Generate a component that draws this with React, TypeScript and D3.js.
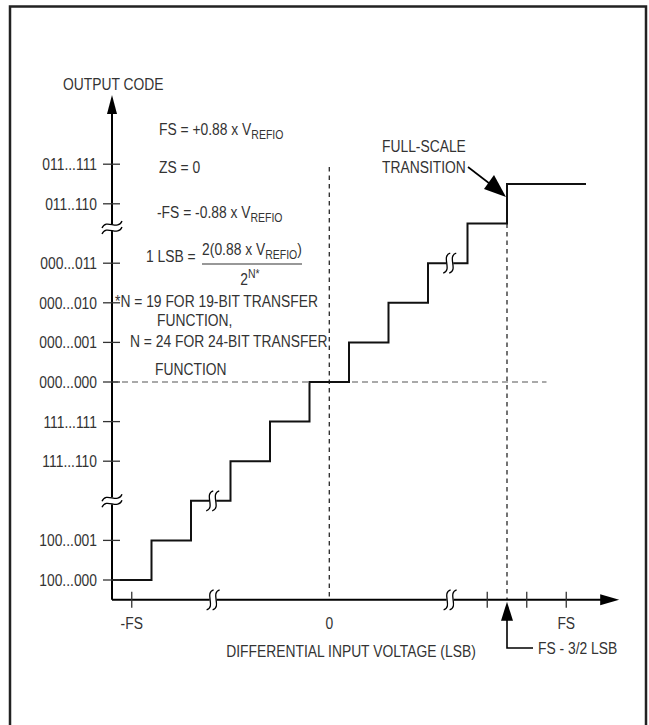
import React from "react";
import * as d3 from "d3";

// ---- data ----
const stepX = [0, 1, 2, 3, 4, 5, 6, 7, 8, 9, 10, 12];
const stepLevel = [0, 1, 2, 3, 4, 5, 6, 7, 8, 9, 10, 10];
const yTickPos = [0, 1, 3, 4, 5, 6, 7, 8, 9.5, 10.5];
const yTickLabels = [
  "100...000",
  "100...001",
  "111...110",
  "111...111",
  "000...000",
  "000...001",
  "000...010",
  "000...011",
  "011..110",
  "011...111",
];
const xTickPos = [0.5, 9.5, 10.5, 11.5];
const xLabelPos = [0.5, 5.5, 11.5];
const xLabels = ["-FS", "0", "FS"];
const yAxisBreaks = [2, 8.9];
const xAxisBreaks = [2.56, 8.56];
const stairBreakX = [2.55, 8.55];
const stairBreakLevel = [2, 8];
const zeroLevel = 5;
const zeroInput = 5.5;
const fsTransition = 10;

const W = 649;
const H = 725;
const FONT = "'Liberation Sans', Arial, sans-serif";
const TEXT = "#333";
const FS = 16.5;
const SX = 0.84;

type TProps = {
  x: number;
  y: number;
  anchor?: "start" | "middle" | "end";
  size?: number;
  dy?: string;
  children?: React.ReactNode;
};
function T({ x, y, anchor = "start", size = FS, dy, children }: TProps) {
  return (
    <text
      transform={`translate(${x},${y}) scale(${SX},1)`}
      textAnchor={anchor}
      fontSize={size}
      dy={dy}
      fill={TEXT}
    >
      {children}
    </text>
  );
}

export default function App() {
  const x = d3.scaleLinear().domain([0, 12]).range([112, 586]);
  const y = d3.scaleLinear().domain([0, 10]).range([580, 184]);
  const x0 = x(0);
  const yAxisY = y(-0.5);
  const xEnd = x(12.84);
  const yTop = y(12.25);

  const pts: [number, number][] = stepX.map((v, i) => [x(v), y(stepLevel[i])]);
  const stair = d3.line().curve(d3.curveStepAfter)(pts) || "";

  const vBreak = (cx: number, cy: number, key: string) => {
    const s = (ox: number) =>
      `M${ox + 3.5},${cy - 10} C${ox - 6},${cy - 7} ${ox + 6},${cy + 7} ${ox - 3.5},${cy + 10}`;
    return (
      <g key={key}>
        <rect x={cx - 3.5} y={cy - 3} width={7} height={6} fill="#fff" />
        <path d={s(cx - 3)} fill="none" stroke="#000" strokeWidth={1.3} />
        <path d={s(cx + 3)} fill="none" stroke="#000" strokeWidth={1.3} />
      </g>
    );
  };
  const hBreak = (cx: number, cy: number, key: string) => {
    const s = (oy: number) =>
      `M${cx - 10},${oy + 3.5} C${cx - 6},${oy - 6.5} ${cx + 6},${oy + 6.5} ${cx + 10},${oy - 3.5}`;
    return (
      <g key={key}>
        <rect x={cx - 3} y={cy - 3.5} width={6} height={7} fill="#fff" />
        <path d={s(cy - 3)} fill="none" stroke="#000" strokeWidth={1.3} />
        <path d={s(cy + 3)} fill="none" stroke="#000" strokeWidth={1.3} />
      </g>
    );
  };

  const sub = (t: string) => (
    <tspan fontSize={12.5} dy={4}>
      {t}
    </tspan>
  );

  const fsX = x(fsTransition);

  return (
    <svg
      width={W}
      height={H}
      style={{ position: "absolute", left: 0, top: 0, background: "#fff" }}
      fontFamily={FONT}
    >
      {/* frame */}
      <path d={`M10,${H + 5} V6.5 H646 V${H + 5}`} fill="none" stroke="#222" strokeWidth={2.5} />

      {/* dashed guides */}
      <line
        x1={x0}
        x2={x(11)}
        y1={y(zeroLevel)}
        y2={y(zeroLevel)}
        stroke="#555"
        strokeWidth={1.2}
        strokeDasharray="6 4"
      />
      <line
        x1={x(zeroInput)}
        x2={x(zeroInput)}
        y1={167}
        y2={yAxisY}
        stroke="#000"
        strokeWidth={1.1}
        strokeDasharray="4.5 4"
      />
      <line
        x1={fsX}
        x2={fsX}
        y1={y(9)}
        y2={yAxisY}
        stroke="#000"
        strokeWidth={1.1}
        strokeDasharray="4.5 4"
      />

      {/* staircase */}
      <path d={stair} fill="none" stroke="#111" strokeWidth={2} />

      {/* axes */}
      <line x1={x0} x2={x0} y1={yAxisY} y2={yTop + 16} stroke="#000" strokeWidth={2} />
      <path d={`M${x0},${yTop} L${x0 - 5},${yTop + 19} L${x0 + 5},${yTop + 19} Z`} fill="#000" />
      <line x1={x0} x2={xEnd - 16} y1={yAxisY} y2={yAxisY} stroke="#000" strokeWidth={2} />
      <path d={`M${xEnd},${yAxisY} L${xEnd - 19},${yAxisY - 5.5} L${xEnd - 19},${yAxisY + 5.5} Z`} fill="#000" />

      {/* y ticks */}
      {yTickPos.map((p, i) => (
        <g key={"yt" + i}>
          <line x1={x0 - 9} x2={x0 + 8} y1={y(p)} y2={y(p)} stroke="#333" strokeWidth={1.3} />
          <T x={97} y={y(p)} dy="0.36em" anchor="end">
            {yTickLabels[i]}
          </T>
        </g>
      ))}

      {/* x ticks */}
      {xTickPos.map((p, i) => (
        <line key={"xt" + i} x1={x(p)} x2={x(p)} y1={yAxisY - 8} y2={yAxisY + 8} stroke="#333" strokeWidth={1.3} />
      ))}
      {xLabelPos.map((p, i) => (
        <T key={"xl" + i} x={x(p)} y={629} anchor="middle">
          {xLabels[i]}
        </T>
      ))}

      {/* breaks */}
      {yAxisBreaks.map((b, i) => hBreak(x0, y(b), "yb" + i))}
      {xAxisBreaks.map((b, i) => vBreak(x(b), yAxisY, "xb" + i))}
      {stairBreakX.map((b, i) => vBreak(x(b), y(stairBreakLevel[i]), "sb" + i))}

      {/* axis titles */}
      <T x={63} y={90}>OUTPUT CODE</T>
      <T x={351} y={657} anchor="middle">
        DIFFERENTIAL INPUT VOLTAGE (LSB)
      </T>

      {/* equations */}
      <T x={159} y={135}>
        FS = +0.88 x V{sub("REFIO")}
      </T>
      <T x={159} y={173}>ZS = 0</T>
      <T x={157} y={218}>
        -FS = -0.88 x V{sub("REFIO")}
      </T>
      <T x={146} y={262}>1 LSB =</T>
      <T x={252} y={255} anchor="middle">
        2(0.88 x V{sub("REFIO")}
        <tspan dy={-4}>)</tspan>
      </T>
      <line x1={202} x2={302} y1={264} y2={264} stroke={TEXT} strokeWidth={1.2} />
      <T x={250} y={285} anchor="middle">
        2
        <tspan fontSize={12.5} dy={-7}>
          N*
        </tspan>
      </T>
      <T x={115} y={307}>*N = 19 FOR 19-BIT TRANSFER</T>
      <T x={157} y={326}>FUNCTION,</T>
      <T x={130} y={347}>N = 24 FOR 24-BIT TRANSFER</T>
      <T x={155} y={375}>FUNCTION</T>

      {/* full-scale transition annotation */}
      <T x={382} y={152}>FULL-SCALE</T>
      <T x={382} y={173}>TRANSITION</T>
      <line x1={468} y1={167} x2={494} y2={187} stroke="#000" strokeWidth={1.6} />
      <path d={`M${fsX - 1},197 L484,189 L494,175 Z`} fill="#000" />

      {/* FS - 3/2 LSB annotation */}
      <path d={`M${fsX},${yAxisY + 2} L${fsX - 6},${yAxisY + 21} L${fsX + 6},${yAxisY + 21} Z`} fill="#000" />
      <path d={`M${fsX},${yAxisY + 20} V648 H533`} fill="none" stroke="#000" strokeWidth={1.6} />
      <T x={538} y={648} dy="0.36em">
        FS - 3/2 LSB
      </T>
    </svg>
  );
}
